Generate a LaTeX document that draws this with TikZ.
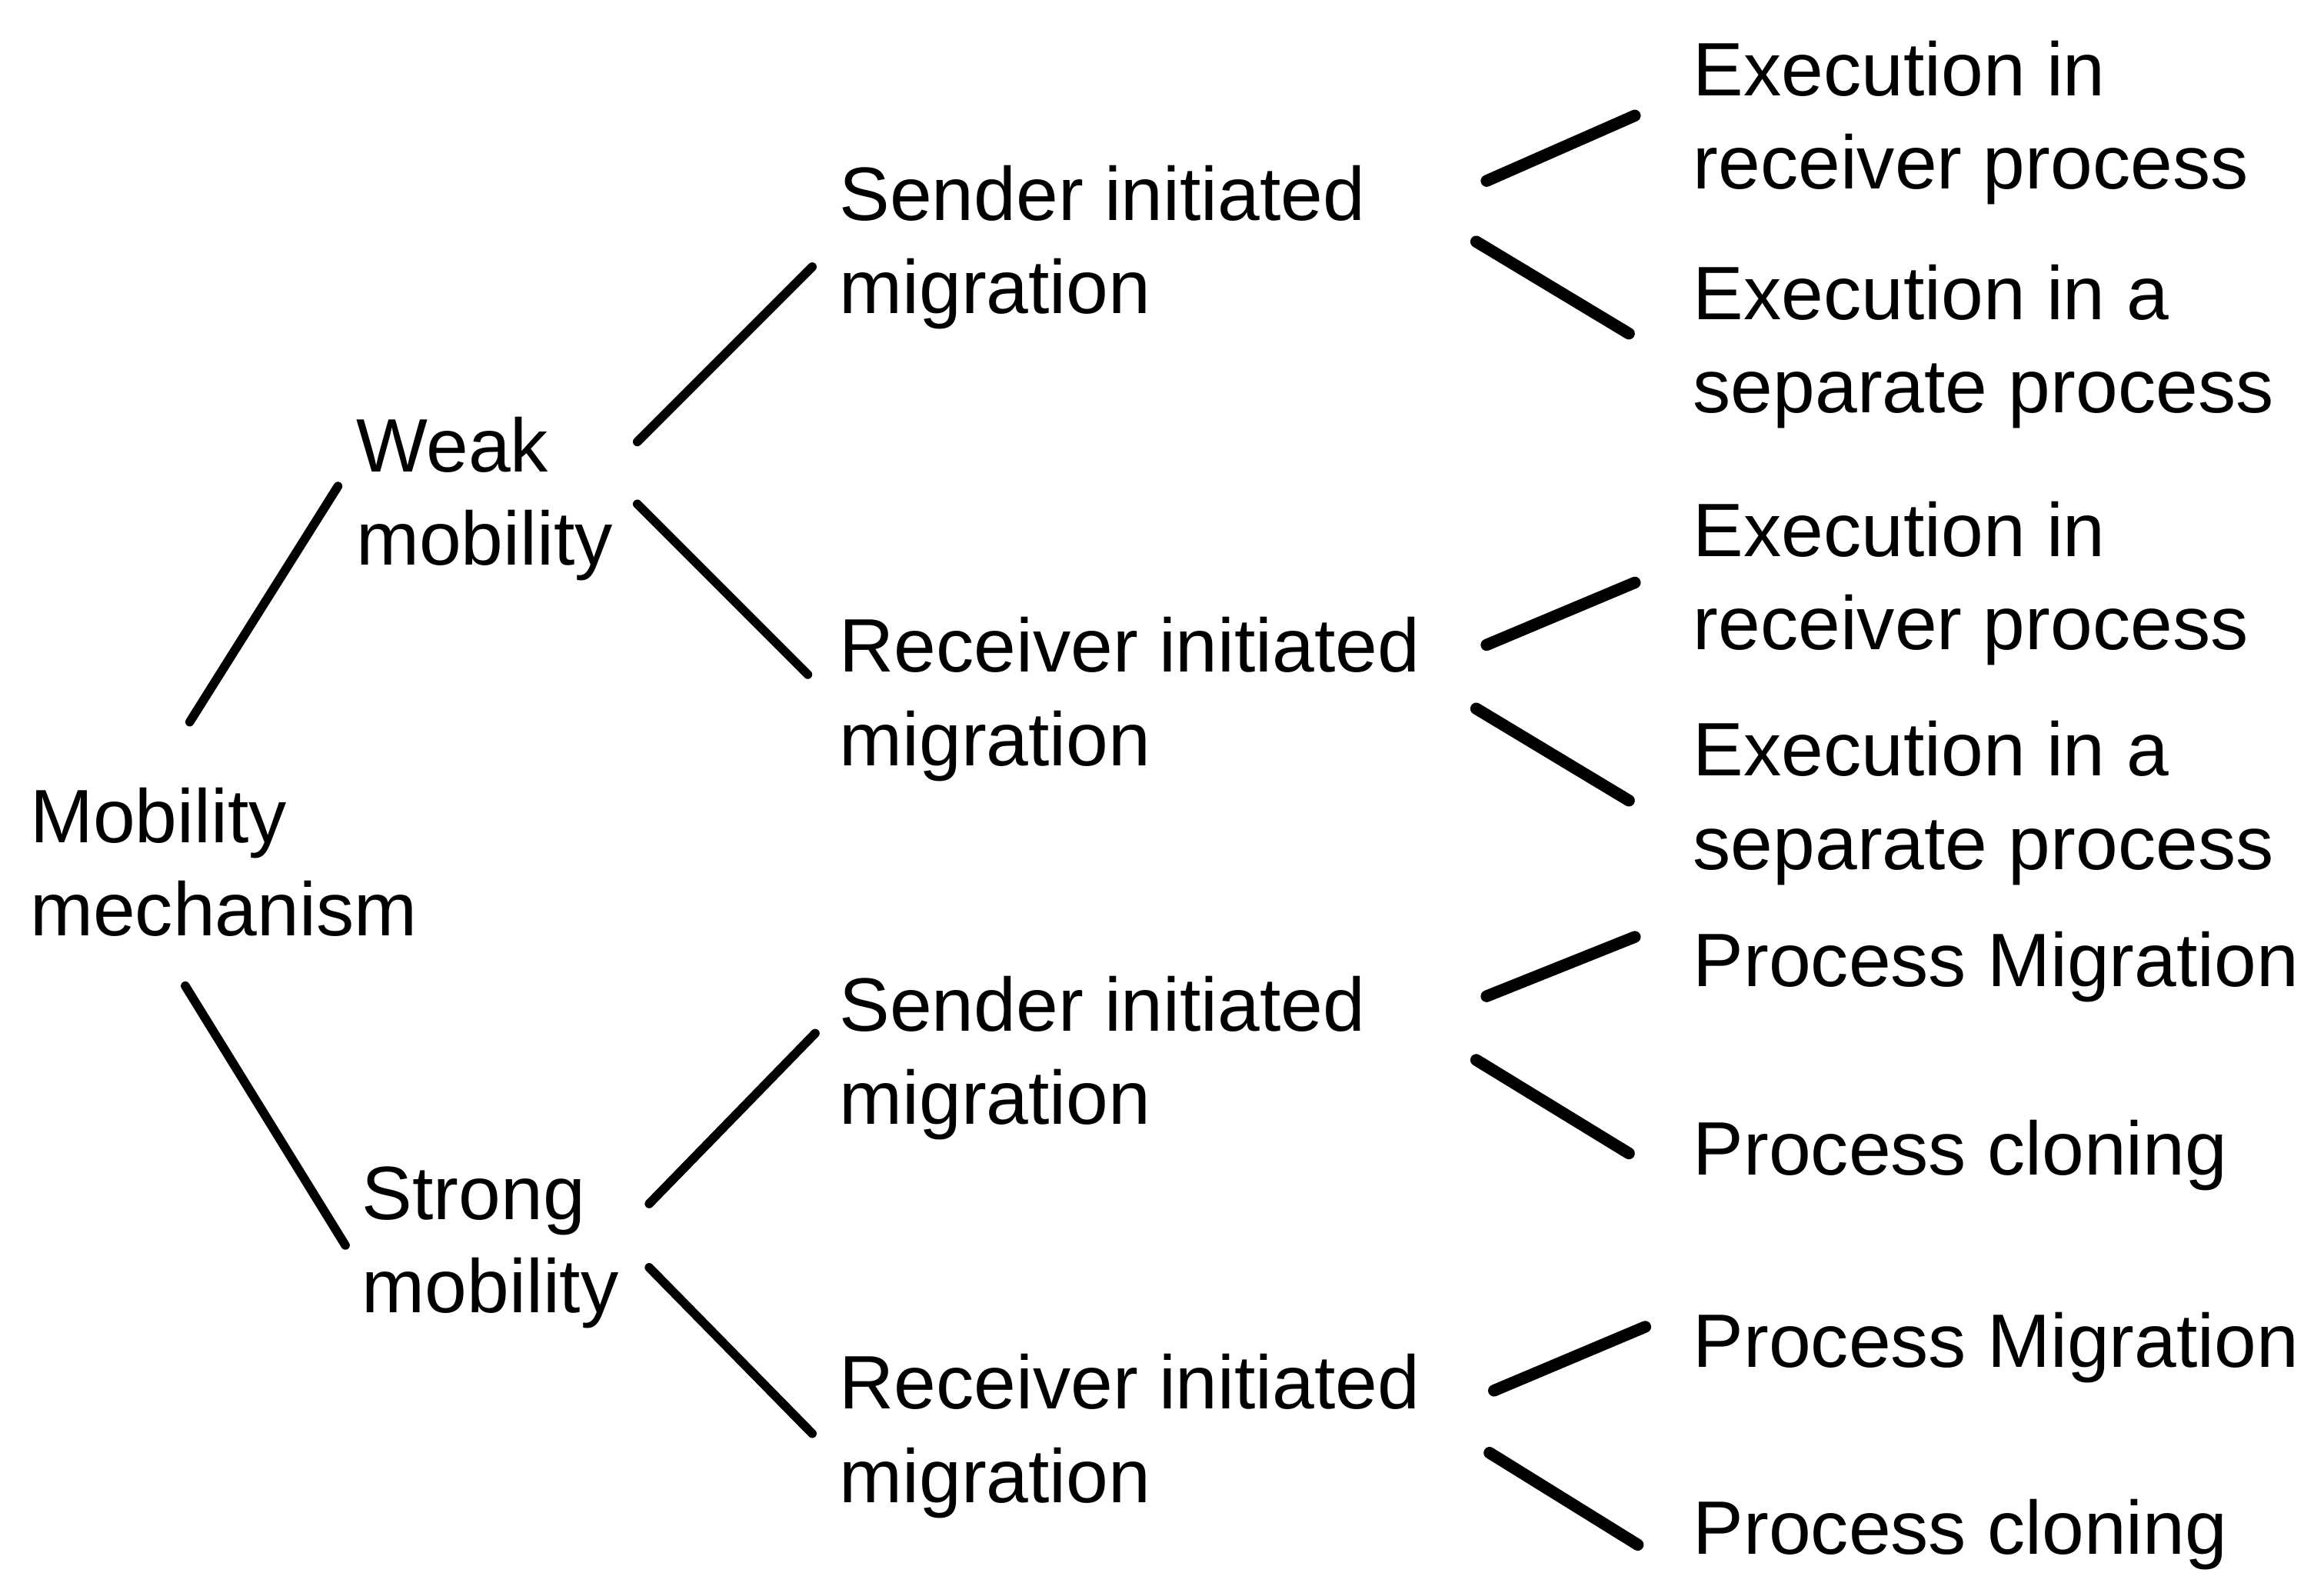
\documentclass[tikz,border=0pt]{standalone}
\usepackage{fontspec}
\setmainfont{Liberation Sans}
\begin{document}
\begin{tikzpicture}[x=0.01927cm, y=-0.01927cm,
  label/.style={anchor=north west, align=left, inner sep=0pt,
    font=\fontsize{28}{34.5}\selectfont},
  branch/.style={line width=3.3pt, line cap=round},
  twig/.style={line width=4.4pt, line cap=round}]
\useasboundingbox (0,0) rectangle (1568,1061);

% labels (y = first baseline - 44)
\node[label] (mob)  at (20,524)   {\strut Mobility\\\strut mechanism};
\node[label] (weak) at (240,274)  {\strut Weak\\\strut mobility};
\node[label] (strong) at (244,778) {\strut Strong\\\strut mobility};

\node[label] (ws) at (566,104) {\strut Sender initiated\\\strut migration};
\node[label] (wr) at (566,409) {\strut Receiver initiated\\\strut migration};
\node[label] (ss) at (566,651) {\strut Sender initiated\\\strut migration};
\node[label] (sr) at (566,906) {\strut Receiver initiated\\\strut migration};

\node[label] (l1) at (1142,20)  {\strut Execution in\\\strut receiver process};
\node[label] (l2) at (1142,171) {\strut Execution in a\\\strut separate process};
\node[label] (l3) at (1142,331) {\strut Execution in\\\strut receiver process};
\node[label] (l4) at (1142,479) {\strut Execution in a\\\strut separate process};
\node[label] (l5) at (1142,621) {\strut Process Migration};
\node[label] (l6) at (1142,748) {\strut Process cloning};
\node[label] (l7) at (1142,878) {\strut Process Migration};
\node[label] (l8) at (1142,1004) {\strut Process cloning};

% connector end points
\coordinate (a1) at (128,487);  \coordinate (a2) at (228,328);
\coordinate (b1) at (125,665);  \coordinate (b2) at (233,840);
\coordinate (c1) at (430,298);  \coordinate (c2) at (548,180);
\coordinate (d1) at (430,340);  \coordinate (d2) at (545,455);
\coordinate (e1) at (438,812);  \coordinate (e2) at (550,697);
\coordinate (f1) at (438,855);  \coordinate (f2) at (548,967);

\coordinate (g1) at (1003,122); \coordinate (g2) at (1103,78);
\coordinate (h1) at (996,163);  \coordinate (h2) at (1099,225);
\coordinate (i1) at (1003,435); \coordinate (i2) at (1103,393);
\coordinate (j1) at (996,478);  \coordinate (j2) at (1099,540);
\coordinate (k1) at (1003,672); \coordinate (k2) at (1103,632);
\coordinate (m1) at (996,715);  \coordinate (m2) at (1099,778);
\coordinate (n1) at (1008,938); \coordinate (n2) at (1110,895);
\coordinate (o1) at (1005,980); \coordinate (o2) at (1105,1042);

% first two levels
\draw[branch] (a1) -- (a2);
\draw[branch] (b1) -- (b2);
\draw[branch] (c1) -- (c2);
\draw[branch] (d1) -- (d2);
\draw[branch] (e1) -- (e2);
\draw[branch] (f1) -- (f2);

% leaf level
\draw[twig] (g1) -- (g2);
\draw[twig] (h1) -- (h2);
\draw[twig] (i1) -- (i2);
\draw[twig] (j1) -- (j2);
\draw[twig] (k1) -- (k2);
\draw[twig] (m1) -- (m2);
\draw[twig] (n1) -- (n2);
\draw[twig] (o1) -- (o2);
\end{tikzpicture}
\end{document}
